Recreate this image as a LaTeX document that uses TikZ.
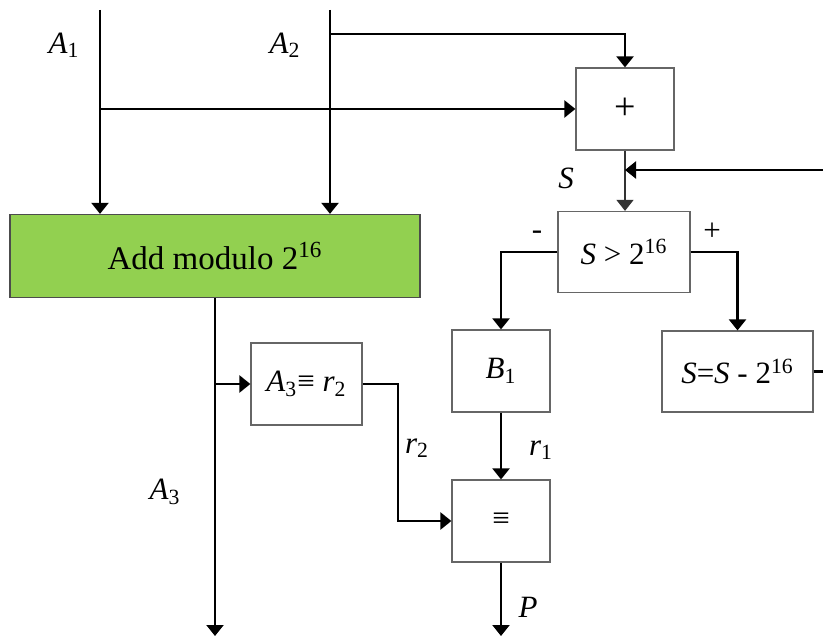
\documentclass[tikz,border=0pt]{standalone}
\usepackage{fontspec}
\setmainfont{Liberation Serif}
\usetikzlibrary{arrows.meta}

\tikzset{
  box/.style={draw=black!60, line width=0.6pt, minimum width=49pt, minimum height=41pt, inner sep=0pt, font=\fontsize{15.5}{17}\selectfont},
  arr/.style={line width=1.1pt, -{Triangle[width=8.5pt,length=5.5pt]}},
  wire/.style={line width=1.1pt},
  lbl/.style={inner sep=0pt, font=\fontsize{15.5}{17}\selectfont}
}

\begin{document}
\begin{tikzpicture}[x=0.5pt, y=-0.5pt]
  \useasboundingbox (0,0) rectangle (823,640);

  % Boxes
  \node[box, fill={rgb,255:red,146;green,208;blue,80}, draw=black!70, minimum width=205pt, minimum height=41.5pt, font=\fontsize{16.5}{18}\selectfont] (add) at (215,256) {Add modulo 2\textsuperscript{16}};
  \node[box, font=\fontsize{19}{21}\selectfont] (plus) at (625,109) {+};
  \node[box, minimum width=66pt, minimum height=40.5pt] (cmp) at (624,252) {\textit{S} > 2\textsuperscript{16}};
  \node[box] (b1) at (501,371) {\textit{B}\textsubscript{1}};
  \node[box, minimum width=75.5pt, minimum height=40.5pt] (sub) at (737.5,371.5) {\textit{S}=\textit{S} - 2\textsuperscript{16}};
  \node[box, minimum width=55.5pt] (mod) at (306.5,384) {\textit{A}\textsubscript{3}≡ \textit{r}\textsubscript{2}};
  \node[box] (eqv) at (501,521) {≡};

  % Free ends
  \coordinate (a1top) at (100,10);
  \coordinate (a2top) at (330,10);
  \coordinate (a1br) at (100,109);
  \coordinate (a2br) at (330,34);
  \coordinate (fb) at (823,170);
  \coordinate (subout) at (823,371.5);
  \coordinate (a3br) at (215,384);
  \coordinate (a3end) at (215,636);
  \coordinate (pend) at (501,636);

  % Connectors
  \draw[arr] (a1top) -- (a1top |- add.north);
  \draw[arr] (a2top) -- (a2top |- add.north);
  \draw[arr] (a1br) -- (plus.west);
  \draw[arr] (a2br) -| (plus.north);
  \draw[arr, line width=0.6pt, black!80] (plus.south) -- (plus.south |- cmp.north);
  \draw[arr] (fb) -- (fb -| plus.south);
  \draw[arr] (cmp.west) -| (b1.north);
  \draw[arr] (cmp.east) -| (sub.north);
  \draw[wire] (sub.east) -- (subout);
  \draw[arr] (add.south) -- (a3end);
  \draw[arr] (a3br) -- (mod.west);
  \draw[arr] (mod.east) -- ++(35,0) |- (eqv.west);
  \draw[arr] (b1.south) -- (eqv.north);
  \draw[arr] (eqv.south) -- (pend);

  % Labels
  \node[lbl] (la1) at (64,45) {\textit{A}\textsubscript{1}};
  \node[lbl] (la2) at (285,45) {\textit{A}\textsubscript{2}};
  \node[lbl] (ls) at (566,178) {\textit{S}};
  \node[lbl] (lminus) at (537,235) {-};
  \node[lbl] (lplus) at (712,232) {+};
  \node[lbl] (lr2) at (417,448) {\textit{r}\textsubscript{2}};
  \node[lbl] (lr1) at (541,450) {\textit{r}\textsubscript{1}};
  \node[lbl] (la3) at (165,492) {\textit{A}\textsubscript{3}};
  \node[lbl] (lp) at (528,607) {\textit{P}};
\end{tikzpicture}
\end{document}
